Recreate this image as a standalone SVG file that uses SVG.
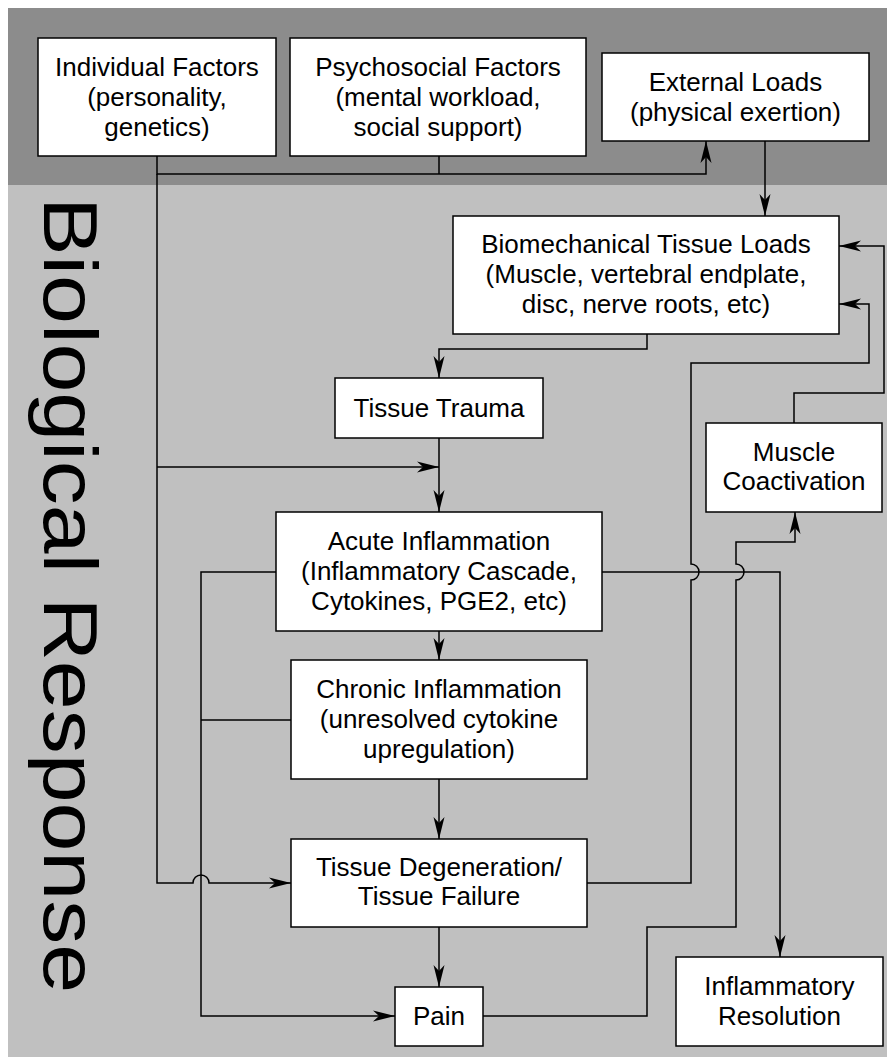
<svg xmlns="http://www.w3.org/2000/svg" width="887" height="1057" viewBox="0 0 887 1057">
<style>
.box{fill:#fff;stroke:#000;stroke-width:1.5}
.t{font-family:"Liberation Sans",Arial,sans-serif;font-size:26px;fill:#000;text-anchor:middle}
.c{fill:none;stroke:#000;stroke-width:1.5}
.ar{marker-end:url(#ah)}
</style>
<defs>
<marker id="ah" markerUnits="userSpaceOnUse" markerWidth="22" markerHeight="12" viewBox="0 -6 22 12" refX="22" refY="0" orient="auto">
<path d="M22,0 L0,-5.5 L6,0 L0,5.5 Z" fill="#000"/>
</marker>
</defs>
<rect x="0" y="0" width="887" height="1057" fill="#fff"/>
<rect x="8" y="8" width="879" height="177" fill="#8c8c8c"/>
<rect x="8" y="185" width="879" height="872" fill="#c0c0c0"/>
<text class="t" x="44" y="197" transform="rotate(90 44 197)" style="font-size:76px;text-anchor:start" textLength="796" lengthAdjust="spacingAndGlyphs">Biological Response</text>

<g id="connectors">
<path class="c" d="M157,156 V174 H706 V141" style="marker-end:url(#ah)"/>
<path class="c" d="M439,156 V174"/>
<path class="c ar" d="M157,174 V883 H193 A8,8 0 0 1 209,883 H291"/>
<path class="c ar" d="M157,467 H439"/>
<path class="c ar" d="M765,141 V216"/>
<path class="c ar" d="M647,334 V349 H439 V378"/>
<path class="c ar" d="M439,438 V512"/>
<path class="c ar" d="M439,631 V660"/>
<path class="c ar" d="M276,572 H201 V1016 H395"/>
<path class="c" d="M291,720 H201"/>
<path class="c ar" d="M439,779 V839"/>
<path class="c ar" d="M439,927 V987"/>
<path class="c ar" d="M602,572 H780 V957"/>
<path class="c ar" d="M587,883 H691 V580 A8,8 0 0 0 691,564 V363 H869 V304 H839"/>
<path class="c ar" d="M483,1016 H647 V927 H736 V580 A8,8 0 0 0 736,564 V542 H795 V512"/>
<path class="c ar" d="M794,423 V393 H884 V246 H839"/>
</g>

<g id="individual">
<rect class="box" x="38" y="38" width="238" height="118"/>
<text class="t" x="157" y="76">Individual Factors</text>
<text class="t" x="157" y="106">(personality,</text>
<text class="t" x="157" y="136">genetics)</text>
</g>
<g id="psychosocial">
<rect class="box" x="290" y="38" width="296" height="118"/>
<text class="t" x="438" y="76">Psychosocial Factors</text>
<text class="t" x="438" y="106">(mental workload,</text>
<text class="t" x="438" y="136">social support)</text>
</g>
<g id="external">
<rect class="box" x="602" y="53" width="267" height="88"/>
<text class="t" x="735.5" y="91">External Loads</text>
<text class="t" x="735.5" y="121">(physical exertion)</text>
</g>
<g id="biomech">
<rect class="box" x="453" y="216" width="386" height="118"/>
<text class="t" x="646" y="253">Biomechanical Tissue Loads</text>
<text class="t" x="646" y="283">(Muscle, vertebral endplate,</text>
<text class="t" x="646" y="313">disc, nerve roots, etc)</text>
</g>
<g id="trauma">
<rect class="box" x="335" y="378" width="208" height="60"/>
<text class="t" x="439" y="417">Tissue Trauma</text>
</g>
<g id="muscle">
<rect class="box" x="706" y="423" width="176" height="89"/>
<text class="t" x="794" y="461">Muscle</text>
<text class="t" x="794" y="490">Coactivation</text>
</g>
<g id="acute">
<rect class="box" x="276" y="512" width="326" height="119"/>
<text class="t" x="439" y="550">Acute Inflammation</text>
<text class="t" x="439" y="580">(Inflammatory Cascade,</text>
<text class="t" x="439" y="610">Cytokines, PGE2, etc)</text>
</g>
<g id="chronic">
<rect class="box" x="291" y="660" width="296" height="119"/>
<text class="t" x="439" y="698">Chronic Inflammation</text>
<text class="t" x="439" y="728">(unresolved cytokine</text>
<text class="t" x="439" y="758">upregulation)</text>
</g>
<g id="degeneration">
<rect class="box" x="291" y="839" width="296" height="88"/>
<text class="t" x="439" y="876">Tissue Degeneration/</text>
<text class="t" x="439" y="905">Tissue Failure</text>
</g>
<g id="pain">
<rect class="box" x="395" y="987" width="88" height="59"/>
<text class="t" x="439" y="1025">Pain</text>
</g>
<g id="resolution">
<rect class="box" x="676" y="957" width="207" height="89"/>
<text class="t" x="779.5" y="995">Inflammatory</text>
<text class="t" x="779.5" y="1025">Resolution</text>
</g>
</svg>
